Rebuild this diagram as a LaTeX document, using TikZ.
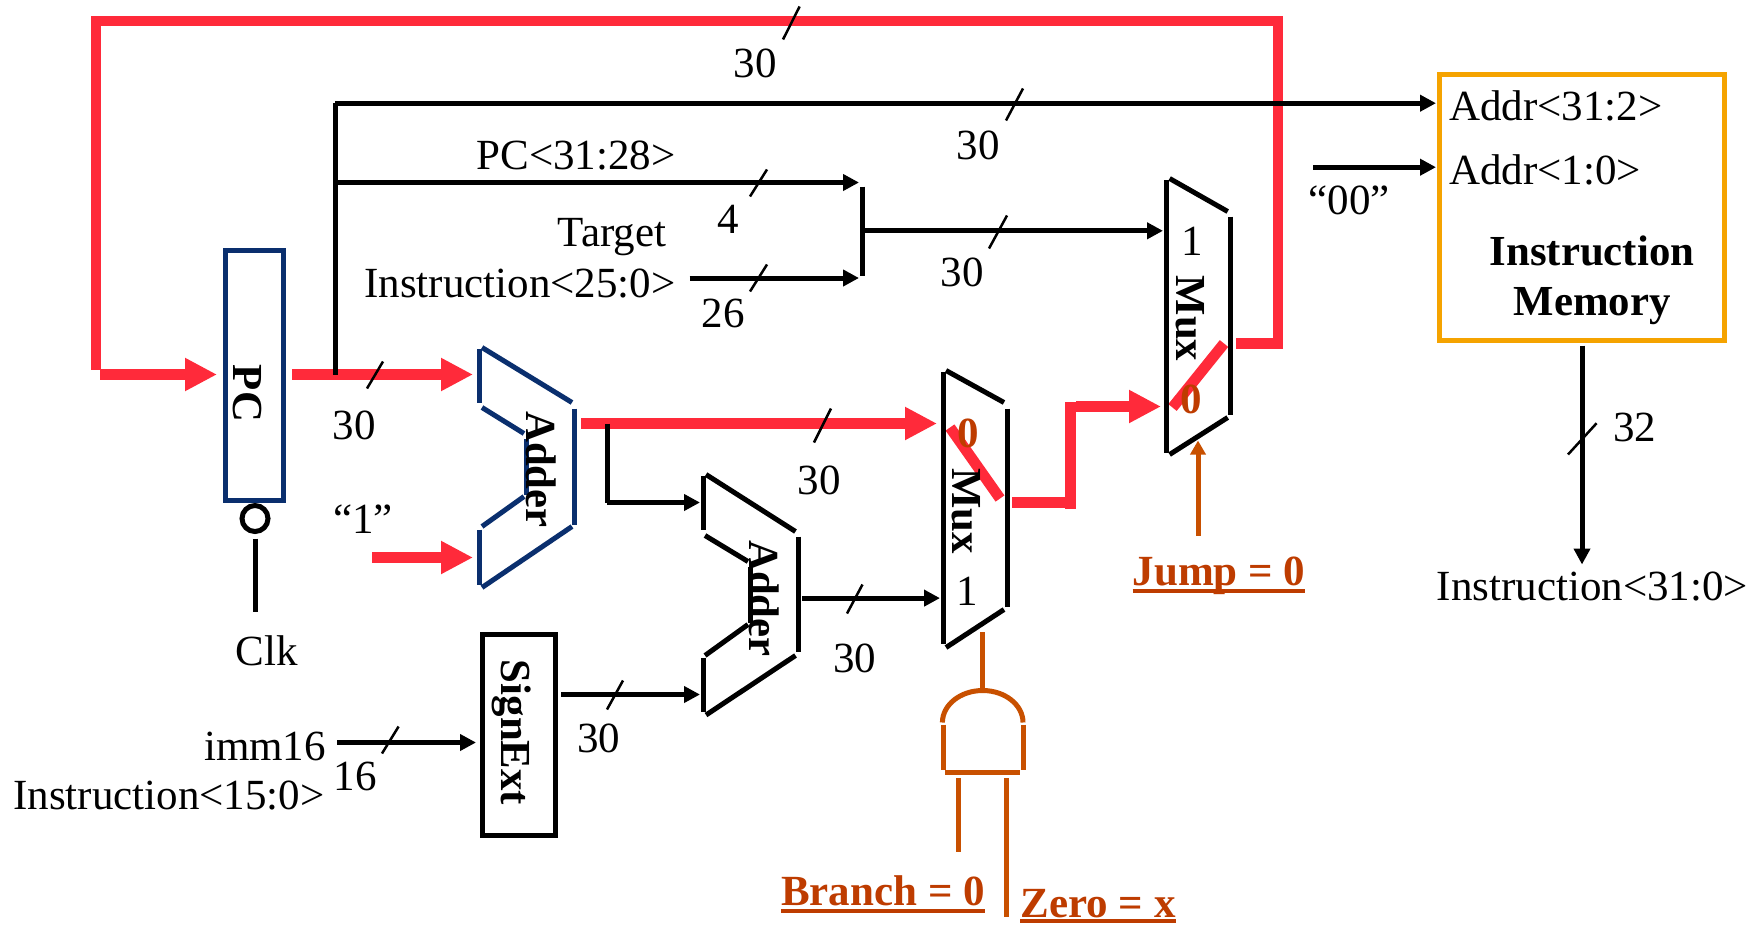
\documentclass[tikz,border=0pt]{standalone}
\usepackage{fontspec}
\setmainfont{Liberation Serif}
\usetikzlibrary{arrows.meta}
\definecolor{wirered}{HTML}{FF2A3A}
\definecolor{navyline}{HTML}{0A2F6E}
\definecolor{ctrl}{HTML}{C85000}
\definecolor{ctrltext}{HTML}{BE3C00}
\definecolor{memgold}{HTML}{F5A300}
\newcommand{\ulbf}[2]{\setbox0=\hbox{\bfseries #1}\rlap{\rule[-#2pt]{\wd0}{3.2pt}}\box0}
\tikzset{
  lbl/.style={inner sep=0pt,font=\fontsize{43}{50}\selectfont},
  blbl/.style={inner sep=0pt,font=\fontsize{42.8}{50}\selectfont\bfseries},
  rotlbl/.style={blbl,rotate=-90},
  ctlbl/.style={inner sep=0pt,text=ctrltext,font=\fontsize{43}{50}\selectfont\bfseries},
  redwire/.style={draw=wirered,line width=10.8pt},
  redarrow/.style={redwire,-{Triangle[length=32pt,width=31pt]}},
  blk/.style={draw=black,line width=5pt},
  blkarrow/.style={blk,-{Triangle[length=16pt,width=16pt]}},
  navy/.style={draw=navyline,line width=5pt},
  ctrlwire/.style={draw=ctrl,line width=5pt},
  tick/.style={draw=black,line width=2.5pt},
  regbox/.style={draw,line width=5pt,inner sep=0pt,minimum width=58pt,minimum height=250pt},
}
\begin{document}
\begin{tikzpicture}[x=1pt,y=-1pt]
\useasboundingbox[fill=white] (0,0) rectangle (1761,924);
\begin{scope}[yshift=-1.5pt]
% named wire points
\coordinate (lbot) at (96,368);
\coordinate (ltop) at (96,19.5);
\coordinate (rtop) at (1278,19.5);
\coordinate (rbot) at (1278,347);
\coordinate (pcin) at (100,373);
\coordinate (pcinT) at (217,373);
\coordinate (pcout) at (292,373);
\coordinate (add1a) at (473,373);
\coordinate (onesrc) at (372,556);
\coordinate (add1b) at (473,556);
\coordinate (add1out) at (581,422);
\coordinate (mux1a) at (937,422);
\coordinate (m1outA) at (1012,501);
\coordinate (m1outB) at (1066,501);
\coordinate (riseA) at (1070.5,507);
\coordinate (riseB) at (1070.5,400);
\coordinate (m2inA) at (1076,405);
\coordinate (mux2a) at (1161,405);
\coordinate (m2outA) at (1236,342);
\coordinate (m2outB) at (1273,342);
\coordinate (sw1a) at (950,426);
\coordinate (sw1b) at (1000,497);
\coordinate (sw2a) at (1172.5,406);
\coordinate (sw2b) at (1224,342);
\coordinate (pcup) at (335,373);
\coordinate (pctop) at (335,101.7);
\coordinate (addrA) at (1436,101.7);
\coordinate (pcmid) at (335,181);
\coordinate (busU) at (859,181);
\coordinate (tgt) at (689.5,276.5);
\coordinate (busL) at (859,276.5);
\coordinate (barT) at (862.5,185);
\coordinate (barB) at (862.5,274);
\coordinate (barM) at (865,229.3);
\coordinate (mux2b) at (1163,229.3);
\coordinate (zz) at (1313,165.7);
\coordinate (addrB) at (1436,165.7);
\coordinate (imemout) at (1582,344);
\coordinate (imemend) at (1582,563);
\coordinate (brTop) at (607,422);
\coordinate (brMid) at (607,501);
\coordinate (add2a) at (700,501);
\coordinate (add2out) at (802,596.6);
\coordinate (mux1b) at (940,596.6);
\coordinate (seOut) at (561,693);
\coordinate (add2b) at (700,693);
\coordinate (immsrc) at (337,741);
\coordinate (seIn) at (476,741);
\coordinate (clkT) at (255,537);
\coordinate (clkB) at (255,610);
\coordinate (andTop) at (982.6,686);
\coordinate (mux1sel) at (982.6,630.5);
\coordinate (brnT) at (958.5,776.5);
\coordinate (brnB) at (958.5,850);
\coordinate (zeroT) at (1006.7,776.5);
\coordinate (zeroB) at (1006.7,915);
\coordinate (jumpB) at (1198,534);
\coordinate (jumpT) at (1198,439);
% red path
\draw[redwire] (lbot) -- (ltop) -- (rtop) -- (rbot);
\draw[redarrow] (pcin) -- (pcinT);
\draw[redarrow] (pcout) -- (add1a);
\draw[redarrow] (onesrc) -- (add1b);
\draw[redarrow] (add1out) -- (mux1a);
\draw[redwire] (m1outA) -- (m1outB);
\draw[redwire] (riseA) -- (riseB);
\draw[redarrow] (m2inA) -- (mux2a);
\draw[redwire] (m2outA) -- (m2outB);
\draw[redwire] (sw1a) -- (sw1b);
\draw[redwire] (sw2a) -- (sw2b);
% PC
\node[regbox,draw=navyline] (pc) at (254.5,373.5) {};
\node[draw=black,line width=5pt,circle,minimum size=26pt,inner sep=0pt] (clkc) at (255,517) {};
\draw[blk] (clkT) -- (clkB);
% Adder 1
\draw[navy] (479,347) -- (479,401);
\draw[navy] (482,346) -- (572,401);
\draw[navy] (482,406) -- (524,432);
\draw[navy] (526,437) -- (526,493);
\draw[navy] (524,495) -- (482,525);
\draw[navy] (479,528) -- (479,583);
\draw[navy] (482,586) -- (572,525);
\draw[navy] (574.5,407) -- (574.5,523);
% Adder 2
\draw[blk] (703,474) -- (703,528);
\draw[blk] (706,473) -- (795.5,530);
\draw[blk] (705,534) -- (748,560);
\draw[blk] (750.5,565) -- (750.5,621);
\draw[blk] (748,623) -- (705,654);
\draw[blk] (703,656) -- (703,710);
\draw[blk] (706,713.5) -- (795.5,654);
\draw[blk] (798,535) -- (798,650);
% Mux 1
\draw[blk] (943,370.5) -- (943,642);
\draw[blk] (946,369) -- (1004,401);
\draw[blk] (1007,407) -- (1007,605);
\draw[blk] (1004,608) -- (946,646);
% Mux 2
\draw[blk] (1166.6,178) -- (1166.6,451);
\draw[blk] (1169.6,177) -- (1227.7,210);
\draw[blk] (1230.7,215) -- (1230.7,413);
\draw[blk] (1227.7,416) -- (1169.6,453);
% SignExt and memory
\node[regbox,draw=black,minimum width=73pt,minimum height=201pt] (se) at (518.5,733.5) {};
\node[regbox,draw=memgold,minimum width=285pt,minimum height=266pt] (imem) at (1581.75,205.5) {};
% black wires
\draw[blk] (pcup) -- (pctop);
\draw[blkarrow] (pctop) -- (addrA);
\draw[blkarrow] (pcmid) -- (busU);
\draw[blkarrow] (tgt) -- (busL);
\draw[blk] (barT) -- (barB);
\draw[blkarrow] (barM) -- (mux2b);
\draw[blkarrow] (zz) -- (addrB);
\draw[blkarrow] (imemout) -- (imemend);
\draw[blk] (brTop) -- (brMid);
\draw[blkarrow] (brMid) -- (add2a);
\draw[blkarrow] (add2out) -- (mux1b);
\draw[blkarrow] (seOut) -- (add2b);
\draw[blkarrow] (immsrc) -- (seIn);
% ticks
\draw[tick] (799.6,5) -- (783,38);
\draw[tick] (1023,87) -- (1006,119);
\draw[tick] (767,168) -- (750,195);
\draw[tick] (767,263) -- (750,290);
\draw[tick] (1007,214) -- (989,247);
\draw[tick] (383,360) -- (367,387);
\draw[tick] (831,407) -- (814,441);
\draw[tick] (862.5,583) -- (847,612);
\draw[tick] (623,679) -- (607,708);
\draw[tick] (398.6,725) -- (382,752);
\draw[tick] (1596.6,421.7) -- (1568,453);
% AND gate
\draw[ctrlwire] (mux1sel) -- (andTop);
\draw[ctrlwire] (942.4,721) arc[start angle=180,end angle=360,x radius=40.3,y radius=32];
\draw[ctrlwire] (943,723) -- (943,768);
\draw[ctrlwire] (1023,723) -- (1023,768);
\draw[ctrlwire] (945,771) -- (1020,771);
\draw[ctrlwire] (brnT) -- (brnB);
\draw[ctrlwire] (zeroT) -- (zeroB);
\draw[ctrlwire,-{Triangle[length=14pt,width=15pt]}] (jumpB) -- (jumpT);
% labels
\node[rotlbl] (tpc) at (247,392) {PC};
\node[rotlbl] (tadd1) at (541,468) {Adder};
\node[rotlbl] (tadd2) at (764,597) {Adder};
\node[rotlbl] (tmux1) at (966,509.5) {Mux};
\node[rotlbl] (tmux2) at (1190,317) {Mux};
\node[rotlbl] (tse) at (512,731) {SignExt};
\node[lbl] (l30a) at (755,62) {30};
\node[lbl] (l30b) at (978,144) {30};
\node[lbl] (lpc) at (576,154) {PC<31:28>};
\node[lbl] (l4) at (728,218) {4};
\node[lbl] (ltgt) at (612,236) {Target};
\node[lbl] (lins25) at (520,282) {Instruction<25:0>};
\node[lbl] (l26) at (723,312) {26};
\node[lbl] (l30c) at (962,271) {30};
\node[lbl] (l30d) at (354,424) {30};
\node[lbl] (lone) at (363,518) {“1”};
\node[lbl] (lclk) at (267,649) {Clk};
\node[lbl] (l30e) at (819,479) {30};
\node[lbl] (l30f) at (854.5,656.6) {30};
\node[lbl] (l30g) at (598.6,737) {30};
\node[lbl] (limm) at (265,744.5) {imm16};
\node[lbl] (lins15) at (169,794) {Instruction<15:0>};
\node[lbl] (l16) at (355,775) {16};
\node[lbl] (m1one) at (967,590) {1};
\node[lbl] (m2one) at (1192,240) {1};
\node[ctlbl] (m1zero) at (968,432) {0};
\node[ctlbl] (m2zero) at (1191.5,398) {0};
\node[lbl,anchor=base west] (la1) at (1449,119) {Addr<31:2>};
\node[lbl,anchor=base west] (la2) at (1449,183) {Addr<1:0>};
\node[lbl] (lzz) at (1349,199) {“00”};
\node[blbl] (lim1) at (1592,249) {Instruction};
\node[blbl] (lim2) at (1592,305) {Memory};
\node[lbl] (l32) at (1634.6,425.7) {32};
\node[lbl] (lins31) at (1592.5,585) {Instruction<31:0>};
\node[ctlbl,anchor=base] (ljump) at (1219,584) {\ulbf{Jump = 0}{7}};
\node[ctlbl,anchor=base] (lbranch) at (883,904) {\ulbf{Branch = 0}{7}};
\node[ctlbl,anchor=base] (lzero) at (1098,915.5) {\ulbf{Zero = x}{5.5}};
\end{scope}
\end{tikzpicture}
\end{document}
